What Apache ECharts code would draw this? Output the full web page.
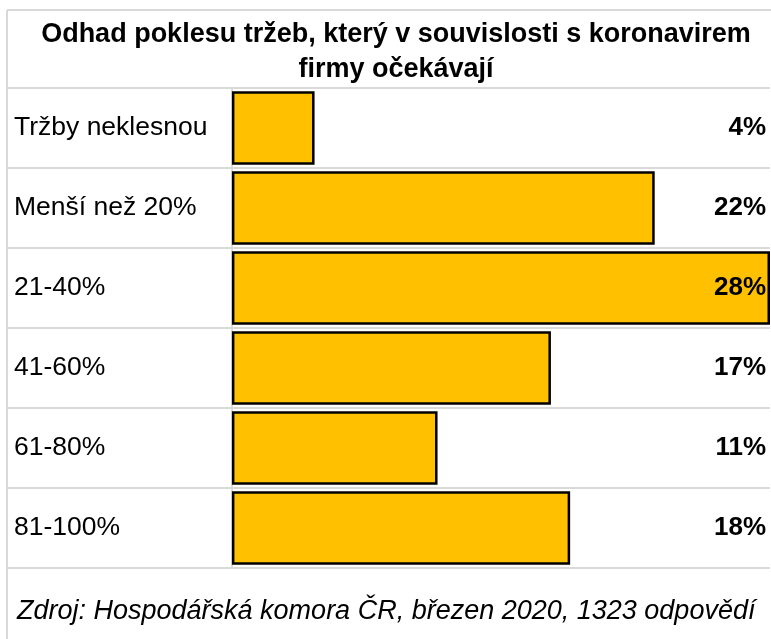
<!DOCTYPE html>
<html>
<head>
<meta charset="utf-8">
<script src="https://cdn.jsdelivr.net/npm/echarts@6/dist/echarts.min.js"></script>
<style>
  html, body { margin: 0; padding: 0; background: #fff; }
  #chart { width: 771px; height: 639px; }
</style>
</head>
<body>
<div id="chart"></div>
<script>
// data
var categories = ['Tržby neklesnou', 'Menší než 20%', '21-40%', '41-60%', '61-80%', '81-100%'];
var values = [4.3, 22, 28, 16.6, 10.7, 17.6];
var pctLabels = ['4%', '22%', '28%', '17%', '11%', '18%'];

var lineColor = '#d9d9d9';
var font = '"Liberation Sans", Arial, sans-serif';

var chart = echarts.init(document.getElementById('chart'));

var option = {
  animation: false,
  backgroundColor: '#fff',
  title: [
    {
      text: 'Odhad poklesu tržeb, který v souvislosti s koronavirem\nfirmy očekávají',
      left: 391,
      top: 12,
      textAlign: 'center',
      textStyle: { fontFamily: font, fontSize: 27, fontWeight: 'bold', color: '#000', lineHeight: 35 }
    },
    {
      text: 'Zdroj: Hospodářská komora ČR, březen 2020, 1323 odpovědí',
      left: 12,
      top: 593,
      textStyle: { fontFamily: font, fontSize: 27, fontStyle: 'italic', fontWeight: 'normal', color: '#000' }
    }
  ],
  graphic: [
    { type: 'line', shape: { x1: 7, y1: 10, x2: 7, y2: 639 }, style: { stroke: lineColor, lineWidth: 2 } },
    { type: 'line', shape: { x1: 7, y1: 10, x2: 771, y2: 10 }, style: { stroke: lineColor, lineWidth: 2 } }
  ],
  grid: [
    { left: 7, width: 223, top: 88, bottom: 71 },
    { left: 230, right: 1, top: 88, bottom: 71 }
  ],
  xAxis: [
    { gridIndex: 0, type: 'value', min: 0, max: 1, show: false },
    { gridIndex: 1, type: 'value', min: -0.1, max: 28, show: false }
  ],
  yAxis: [
    {
      gridIndex: 0,
      type: 'category',
      data: categories,
      inverse: true,
      axisLine: { show: false },
      axisTick: { show: false },
      axisLabel: { inside: true, margin: 7, padding: [6, 0, 0, 0], fontFamily: font, fontSize: 26.5, color: '#000' },
      splitLine: { show: true, lineStyle: { color: lineColor, width: 2 } }
    },
    {
      gridIndex: 1,
      type: 'category',
      data: categories,
      inverse: true,
      axisLine: { show: true, lineStyle: { color: lineColor, width: 2 } },
      axisTick: { show: false },
      axisLabel: { show: false },
      splitLine: { show: true, lineStyle: { color: lineColor, width: 2 } }
    },
    {
      gridIndex: 1,
      type: 'category',
      position: 'right',
      data: pctLabels,
      inverse: true,
      z: 10,
      axisLine: { show: false },
      axisTick: { show: false },
      axisLabel: { inside: true, margin: 4, padding: [4, 0, 0, 0], fontFamily: font, fontSize: 26, fontWeight: 'bold', color: '#000' },
      splitLine: { show: false }
    }
  ],
  series: [
    {
      type: 'bar',
      xAxisIndex: 1,
      yAxisIndex: 1,
      data: values,
      barCategoryGap: '8%',
      itemStyle: { color: '#FFC000', borderColor: '#000', borderWidth: 2.5 }
    }
  ]
};

chart.setOption(option);
</script>
</body>
</html>
